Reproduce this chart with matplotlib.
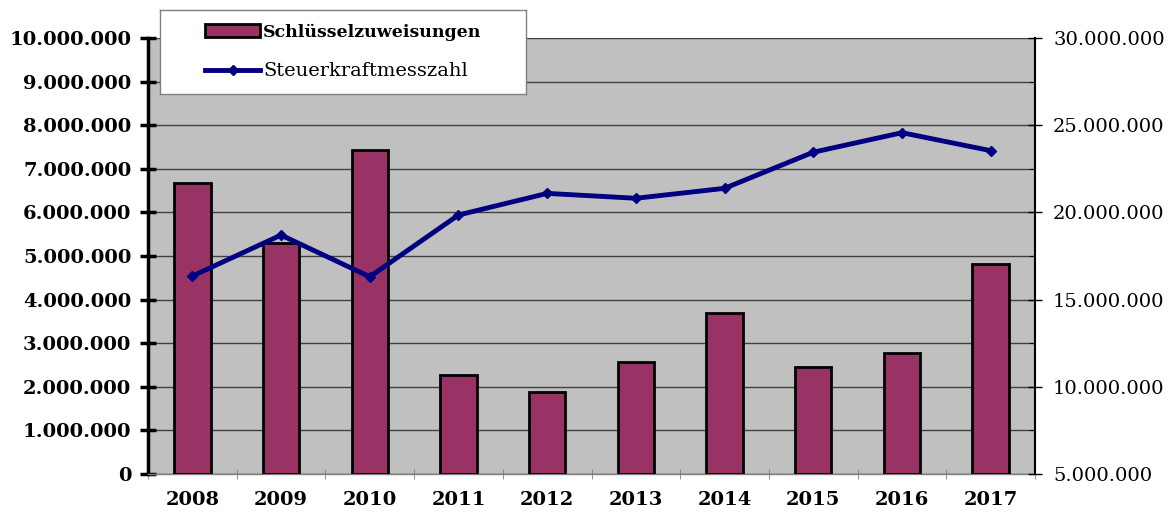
import matplotlib
matplotlib.use("Agg")
import matplotlib.pyplot as plt
from matplotlib.ticker import FuncFormatter, MultipleLocator

# values
jahre = ['2008', '2009', '2010', '2011', '2012', '2013', '2014', '2015', '2016', '2017']
schluesselzuweisungen = [6670000, 5300000, 7430000, 2270000, 1890000,
                         2580000, 3690000, 2450000, 2780000, 4820000]
steuerkraftmesszahl = [16350000, 18700000, 16310000, 19850000, 21090000,
                       20810000, 21380000, 23450000, 24570000, 23540000]

plt.rcParams['font.family'] = ['DejaVu Serif']

def de_fmt(v, pos):
    return f"{int(round(v)):,}".replace(",", ".")

fig = plt.figure(figsize=(11.72, 5.13), dpi=100)
ax = fig.add_axes([148/1172, 39/513, 887/1172, 436/513])
ax.set_facecolor('#C0C0C0')

x = list(range(len(jahre)))
bars = ax.bar(x, schluesselzuweisungen, width=0.41, color='#993366',
              edgecolor='black', linewidth=2, zorder=3, label='Schlüsselzuweisungen')
ax.set_xlim(-0.5, len(jahre) - 0.5)
ax.set_ylim(0, 10000000)
ax.yaxis.set_major_locator(MultipleLocator(1000000))
ax.yaxis.set_major_formatter(FuncFormatter(de_fmt))
ax.grid(axis='y', color='#404040', linewidth=1, zorder=0)
ax.set_axisbelow(True)

ax.set_xticks(x)
ax.set_xticklabels(jahre)
ax.set_xticks([i - 0.5 for i in range(len(jahre) + 1)], minor=True)
ax.tick_params(axis='x', which='major', length=0, pad=12, labelsize=14)
ax.tick_params(axis='x', which='minor', length=7, color='#808080', direction='inout')
ax.tick_params(axis='y', which='major', length=12, width=2.5, direction='inout',
               labelsize=14, pad=6)
for lab in ax.get_xticklabels() + ax.get_yticklabels():
    lab.set_fontweight('bold')

ax.spines['left'].set_linewidth(2.5)
ax.spines['bottom'].set_color('#808080')
ax.spines['bottom'].set_linewidth(1)
ax.spines['top'].set_visible(False)
ax.spines['right'].set_visible(False)

ax2 = ax.twinx()
line, = ax2.plot(x, steuerkraftmesszahl, color='#000080', linewidth=3.5,
                 marker='D', markersize=5, label='Steuerkraftmesszahl', zorder=4)
ax2.set_ylim(5000000, 30000000)
ax2.yaxis.set_major_locator(MultipleLocator(5000000))
ax2.yaxis.set_minor_locator(MultipleLocator(2500000))
ax2.yaxis.set_major_formatter(FuncFormatter(de_fmt))
ax2.tick_params(axis='y', which='major', length=10, width=1, direction='inout',
                labelsize=14, pad=8)
ax2.tick_params(axis='y', which='minor', length=4, direction='in')
ax2.spines['right'].set_linewidth(1.5)
for s in ['top', 'left', 'bottom']:
    ax2.spines[s].set_visible(False)

# legend box as its own small axes so the entries sit centred in it
lax = fig.add_axes([160/1172, 1 - 94/513, 366/1172, 84/513], zorder=10)
lax.set_xticks([])
lax.set_yticks([])
lax.set_facecolor('white')
for s in lax.spines.values():
    s.set_color('#808080')
    s.set_linewidth(1)
leg = lax.legend([bars, line], ['Schlüsselzuweisungen', 'Steuerkraftmesszahl'],
                 loc='center', fontsize=12.5, frameon=False, handlelength=3.2,
                 handleheight=0.8, handletextpad=0.15, labelspacing=1.25,
                 borderpad=0)
leg.get_texts()[0].set_fontweight('bold')
leg.get_texts()[1].set_fontsize(14)

fig.savefig("out.png", dpi=100)
